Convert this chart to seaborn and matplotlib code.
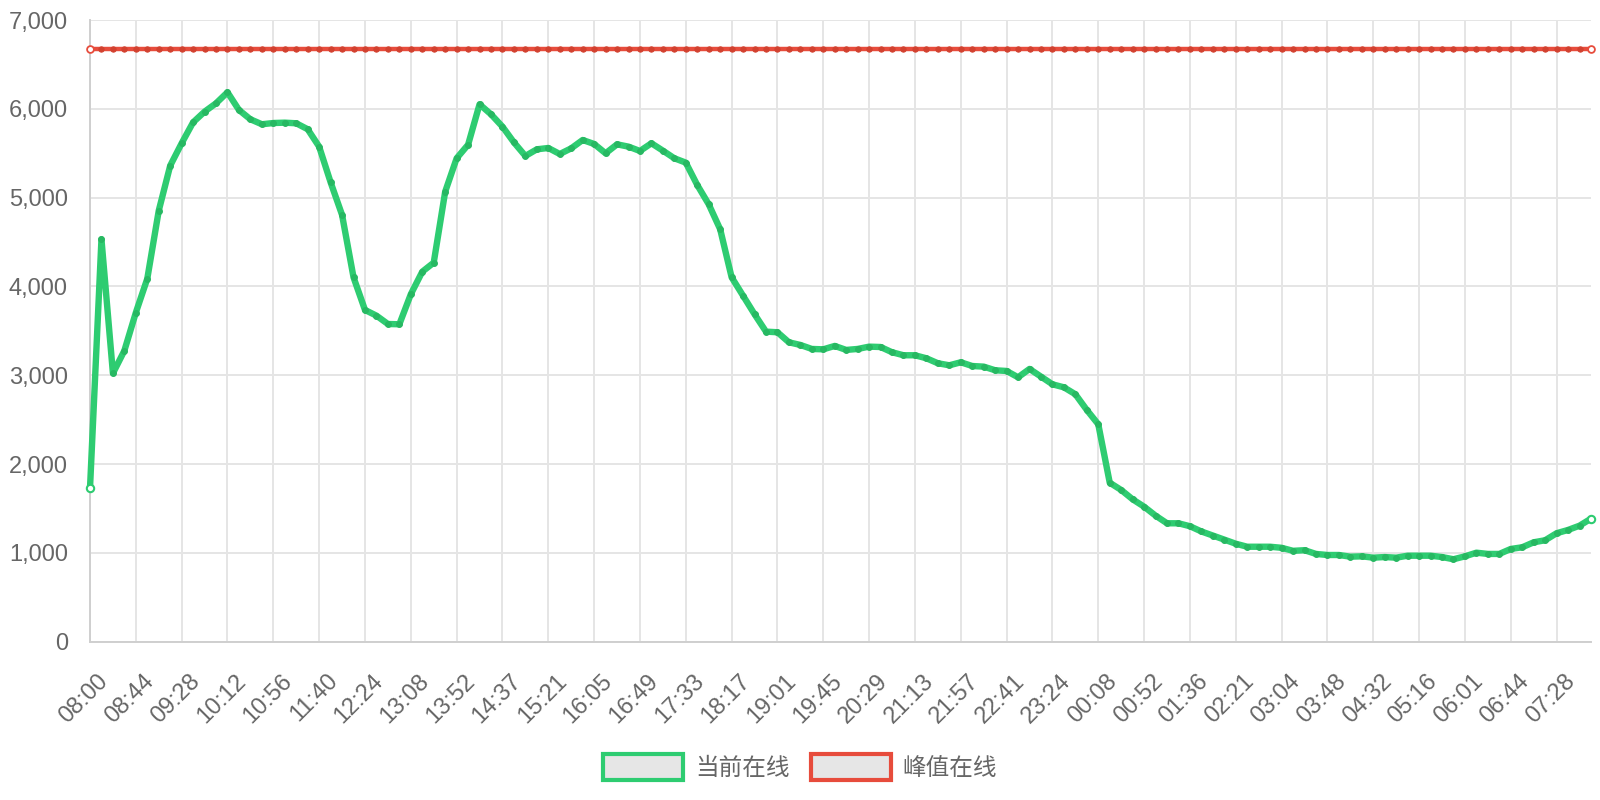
import seaborn as sns
import matplotlib.pyplot as plt
import matplotlib.transforms as mtransforms
from matplotlib.patches import Patch
from matplotlib.ticker import FuncFormatter
import numpy as np

sns.set_style("white")
plt.rcParams['font.family'] = ['Liberation Sans', 'Noto Sans CJK SC', 'DejaVu Sans']

# 当前在线, one sample roughly every 11 minutes from 08:00
online = [1727, 4531, 3022, 3277, 3705, 4087, 4853, 5360, 5612, 5848,
          5968, 6062, 6186, 5987, 5882, 5826, 5840, 5844, 5837, 5770,
          5574, 5173, 4805, 4103, 3735, 3671, 3577, 3574, 3912, 4166,
          4268, 5067, 5443, 5596, 6051, 5938, 5799, 5622, 5469, 5544,
          5559, 5491, 5555, 5649, 5604, 5499, 5600, 5574, 5525, 5612,
          5529, 5443, 5394, 5142, 4925, 4644, 4103, 3896, 3687, 3491,
          3484, 3371, 3341, 3296, 3292, 3330, 3285, 3296, 3322, 3318,
          3259, 3225, 3225, 3191, 3135, 3112, 3146, 3104, 3097, 3056,
          3048, 2977, 3071, 2984, 2898, 2864, 2786, 2609, 2448, 1790,
          1708, 1603, 1520, 1419, 1333, 1333, 1300, 1241, 1195, 1150,
          1103, 1069, 1069, 1069, 1057, 1023, 1030, 988, 976, 976,
          957, 961, 946, 953, 946, 968, 968, 968, 953, 928,
          961, 1002, 988, 988, 1044, 1063, 1119, 1142, 1221, 1258,
          1306, 1385]
peak_value = 6676
peak = [peak_value] * len(online)

tick_labels = ['08:00', '08:44', '09:28', '10:12', '10:56', '11:40', '12:24',
               '13:08', '13:52', '14:37', '15:21', '16:05', '16:49', '17:33',
               '18:17', '19:01', '19:45', '20:29', '21:13', '21:57', '22:41',
               '23:24', '00:08', '00:52', '01:36', '02:21', '03:04', '03:48',
               '04:32', '05:16', '06:01', '06:44', '07:28']
tick_step = 4

GREEN = '#2ecc71'
DKGREEN = '#27b862'
RED = '#e74c3c'
DKRED = '#d2412f'
GRID = '#e5e5e5'
AXIS = '#cfcfcf'
TEXT = '#666666'

idx = np.arange(len(online))

fig = plt.figure(figsize=(16, 8), dpi=100)
ax = fig.add_axes([0.05625, 0.1979, 0.9381, 0.7771])

sns.lineplot(x=idx, y=peak, ax=ax, color=RED, lw=3.2, marker='o', markersize=3.8,
             markerfacecolor=DKRED, markeredgecolor=DKRED, clip_on=False, zorder=3)
sns.lineplot(x=idx, y=online, ax=ax, color=GREEN, lw=4.6, marker='o', markersize=4.2,
             markerfacecolor=DKGREEN, markeredgecolor=DKGREEN, clip_on=False, zorder=4)

# hollow end points
ax.scatter([idx[0], idx[-1]], [peak[0], peak[-1]], s=24, facecolor='white',
           edgecolor=RED, linewidth=1.3, zorder=5, clip_on=False)
ax.scatter([idx[0], idx[-1]], [online[0], online[-1]], s=28, facecolor='white',
           edgecolor=GREEN, linewidth=1.5, zorder=5, clip_on=False)

ax.set_xlim(0, len(online) - 1)
ax.set_ylim(0, 7000)
ax.set_yticks(np.arange(0, 7001, 1000))
ax.yaxis.set_major_formatter(FuncFormatter(lambda v, p: f'{v:,.0f}'))
ax.set_xticks(idx[::tick_step])
ax.set_xticklabels([])

# rotated time labels, anchored just right of and below each tick
lab_trans = ax.get_xaxis_transform() + mtransforms.ScaledTranslation(
    15 / 100, -36 / 100, fig.dpi_scale_trans)
for pos, lab in zip(idx[::tick_step], tick_labels):
    ax.text(pos, 0, lab, transform=lab_trans, rotation=45, ha='right',
            va='center', rotation_mode='anchor', fontsize=17, color=TEXT)

ax.grid(True, color=GRID, lw=1.4)
ax.set_axisbelow(True)
ax.tick_params(axis='both', length=11, width=1.4, color=GRID, labelcolor=TEXT,
               labelsize=17)
ax.tick_params(axis='y', pad=5)
for s in ['top', 'right']:
    ax.spines[s].set_visible(False)
for s in ['left', 'bottom']:
    ax.spines[s].set_color(AXIS)
    ax.spines[s].set_linewidth(1.4)
ax.set_xlabel('')
ax.set_ylabel('')

handles = [Patch(facecolor='#e6e6e6', edgecolor=GREEN, linewidth=3, label='当前在线'),
           Patch(facecolor='#e6e6e6', edgecolor=RED, linewidth=3, label='峰值在线')]
fig.legend(handles=handles, loc='center', bbox_to_anchor=(0.5, 0.041), ncol=2,
           frameon=False, fontsize=17, handlelength=3.4, handleheight=1.3,
           handletextpad=0.5, columnspacing=0.9, labelcolor=TEXT)

fig.savefig('out.png', dpi=100)
